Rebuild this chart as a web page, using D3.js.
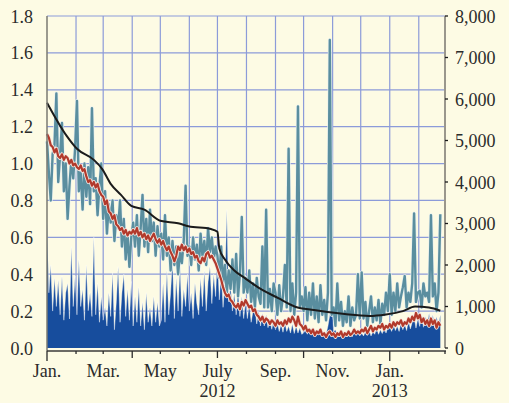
<!DOCTYPE html>
<html><head><meta charset="utf-8">
<script src="https://cdn.jsdelivr.net/npm/d3@7"></script>
<style>html,body{margin:0;padding:0;background:#fdfbe4;}svg{display:block;} text{font-family:"Liberation Serif","Times New Roman",Times,Tinos,"Nimbus Roman","Noto Serif","DejaVu Serif",serif;}</style>
</head><body>
<svg id="chart" width="509" height="403"></svg>
<script>
// ---------- DATA ----------
const seriesStart = [2012, 0, 1];   // first observation
const stepDays = 2;                  // spacing of observations

// spiky teal series (left axis)
const tealValues = [
 1.12,0.95,0.80,1.05,1.10,1.38,0.90,1.05,1.22,0.85,1.00,0.70,0.88,1.02,0.92,1.08,
 1.34,0.85,0.95,0.75,1.00,0.82,0.98,0.78,1.30,0.85,0.92,0.72,0.88,1.00,
 0.70,0.85,0.62,0.78,0.68,0.80,0.58,0.72,0.65,0.80,0.55,0.70,0.48,0.62,0.44,0.60,
 0.68,0.55,0.72,0.50,0.65,0.83,0.55,0.70,0.52,0.75,0.58,0.68,0.50,0.66,0.55,
 0.62,0.48,0.72,0.50,0.60,0.42,0.58,0.45,0.55,0.40,0.52,0.46,0.58,0.88,0.50,
 0.55,0.45,0.60,0.48,0.56,0.42,0.62,0.50,0.58,0.45,0.65,0.52,0.60,0.48,0.55,
 0.50,0.38,0.55,0.35,0.45,0.30,0.42,0.32,0.48,0.30,0.51,0.28,0.40,0.71,0.30,0.38,
 0.30,0.42,0.25,0.35,0.22,0.38,0.28,0.24,0.55,0.22,0.75,0.22,0.32,0.20,0.35,
 0.30,0.18,0.34,0.20,0.28,0.45,0.22,1.08,0.20,0.35,0.18,0.30,1.31,0.22,0.28,
 0.20,0.33,0.15,0.30,0.18,0.35,0.16,0.28,0.14,0.34,0.18,0.26,0.15,0.30,1.67,0.18,
 0.22,0.12,0.35,0.15,0.25,0.12,0.20,0.14,0.28,0.12,0.22,0.15,0.18,0.40,0.16,
 0.41,0.16,0.25,0.12,0.20,0.28,0.14,0.22,0.15,0.26,0.13,0.24,0.18,0.30,0.20,
 0.40,0.18,0.30,0.20,0.35,0.22,0.28,0.33,0.39,0.22,0.30,0.25,0.35,0.73,0.25,0.30,
 0.31,0.22,0.35,0.28,0.30,0.25,0.72,0.28,0.35,0.20,0.30,0.725
];

// red series (left axis)
const redValues = [
 1.16,1.14,1.10,1.09,1.06,1.08,1.04,1.03,1.05,1.02,1.04,1.03,1.00,1.02,0.99,1.00,
 0.98,0.97,0.99,0.96,0.97,0.93,0.90,0.91,0.88,0.90,0.87,0.89,0.85,0.83,
 0.82,0.78,0.80,0.74,0.73,0.70,0.72,0.67,0.66,0.64,0.65,0.62,0.64,0.61,0.63,0.62,
 0.64,0.62,0.65,0.61,0.63,0.60,0.62,0.59,0.61,0.58,0.60,0.62,0.59,0.57,0.59,
 0.56,0.58,0.55,0.53,0.55,0.52,0.50,0.47,0.50,0.55,0.53,0.56,0.53,0.55,0.52,
 0.54,0.51,0.52,0.49,0.50,0.47,0.46,0.49,0.47,0.51,0.52,0.49,0.50,0.48,0.46,
 0.43,0.40,0.37,0.33,0.30,0.28,0.29,0.26,0.25,0.23,0.22,0.24,0.21,0.25,0.23,0.26,
 0.24,0.22,0.23,0.20,0.21,0.18,0.17,0.15,0.17,0.14,0.16,0.15,0.13,0.15,0.14,
 0.12,0.15,0.13,0.14,0.12,0.15,0.13,0.16,0.14,0.17,0.15,0.12,0.17,0.13,0.12,
 0.10,0.12,0.09,0.10,0.08,0.10,0.07,0.09,0.08,0.10,0.07,0.08,0.06,0.08,0.09,0.07,
 0.08,0.06,0.08,0.07,0.09,0.06,0.08,0.07,0.09,0.07,0.08,0.10,0.08,0.09,0.08,
 0.10,0.09,0.11,0.08,0.10,0.12,0.09,0.11,0.10,0.12,0.11,0.13,0.10,0.12,0.11,
 0.13,0.11,0.14,0.12,0.14,0.13,0.15,0.12,0.14,0.13,0.16,0.14,0.17,0.15,0.19,0.16,
 0.18,0.14,0.16,0.13,0.15,0.12,0.16,0.13,0.15,0.11,0.14,0.12
];

// dark blue area (right axis)
const blueValues = [
 3020,1330,2000,890,1690,1000,1640,800,1730,670,1330,1560,700,2440,1000,1730,
 800,2130,1000,1420,670,2000,900,1330,760,2670,800,1560,620,1240,
 670,980,530,1330,760,1820,440,1110,1960,620,1330,1780,760,1420,670,1600,
 530,1240,620,1470,530,1110,440,1330,620,980,530,1240,620,1110,530,
 670,1560,620,1870,800,1330,2130,710,1690,890,2000,760,1420,1000,1780,
 890,1330,710,1560,1070,800,1690,1000,1870,890,1600,1960,1070,1780,1240,
 2220,1160,1870,980,1600,3330,1110,1510,890,1330,800,1420,760,1240,710,1110,
 710,1070,620,900,980,580,890,530,840,530,800,490,710,450,670,
 440,620,400,580,380,620,400,530,360,580,350,530,360,490,330,
 360,440,330,490,330,440,300,400,330,440,300,400,330,530,800,1330,
 400,440,300,400,290,360,270,400,290,360,270,440,300,400,290,
 360,290,400,300,440,290,400,330,490,330,440,350,490,360,500,
 530,400,580,420,530,400,620,440,580,420,670,460,620,760,480,710,
 520,800,500,760,540,840,520,800,480,760,540,800
];

// smooth black line (left axis): day offsets from series start, values
const blackDays   = [0,21,32,50,59,68,79,90,104,121,140,151,175,182,184,190,200,211,225,247,265,285,318,344,362,380,393,408,420];
const blackValues = [1.33,1.15,1.08,1.02,0.97,0.89,0.83,0.77,0.75,0.69,0.676,0.66,0.645,0.63,0.54,0.48,0.42,0.38,0.33,0.27,0.224,0.206,0.184,0.174,0.182,0.200,0.225,0.22,0.202];

const leftTicks  = [0,0.2,0.4,0.6,0.8,1.0,1.2,1.4,1.6,1.8];
const rightTicks = [0,1000,2000,3000,4000,5000,6000,7000,8000];
const monthLabels = [
 {m:[2012,0],  label:"Jan."}, {m:[2012,2], label:"Mar."}, {m:[2012,4], label:"May"},
 {m:[2012,6],  label:"July"}, {m:[2012,8], label:"Sep."}, {m:[2012,10], label:"Nov."},
 {m:[2013,0],  label:"Jan."}
];
const yearLabels = [{m:[2012,6], label:"2012"}, {m:[2013,0], label:"2013"}];

// ---------- CHART ----------
const svg = d3.select("#chart");
const W = 509, H = 403;
const L = 47, R = 445, T = 16, B = 348;
svg.append("rect").attr("width", W).attr("height", H).attr("fill", "#fdfbe4");

const x = d3.scaleTime().domain([new Date(2012,0,1), new Date(2013,2,1)]).range([L, R]);
const yL = d3.scaleLinear().domain([0, 1.8]).range([B, T]);
const yR = d3.scaleLinear().domain([0, 8000]).range([B, T]);

const start = new Date(...seriesStart);
const dateAt = i => d3.timeDay.offset(start, i * stepDays);
const teal = tealValues.map((v,i) => ({d: dateAt(i), v}));
const red  = redValues.map((v,i) => ({d: dateAt(i), v}));
const blue = blueValues.map((v,i) => ({d: dateAt(i), v}));
const black = blackDays.map((dd,i) => ({d: d3.timeDay.offset(start, dd), v: blackValues[i]}));

const gridColor = "#8c9bd9";
const months = d3.timeMonth.range(new Date(2012,0,1), new Date(2013,2,2));

// gridlines
const grid = svg.append("g");
grid.selectAll("line.h").data(leftTicks.slice(1)).join("line")
  .attr("x1", L).attr("x2", R).attr("y1", d => yL(d)).attr("y2", d => yL(d))
  .attr("stroke", gridColor).attr("stroke-width", 1.2);
grid.selectAll("line.v").data(months.slice(1, -1)).join("line")
  .attr("x1", d => x(d)).attr("x2", d => x(d)).attr("y1", T).attr("y2", B)
  .attr("stroke", gridColor).attr("stroke-width", 1.2);

// blue area
const area = d3.area().x(d => x(d.d)).y0(yR(0)).y1(d => yR(d.v));
svg.append("path").datum(blue).attr("d", area).attr("fill", "#174d9d");
svg.append("path").datum(blue).attr("d", d3.line().x(d => x(d.d)).y(d => yR(d.v)))
  .attr("fill", "none").attr("stroke", "#ffffff").attr("stroke-opacity", 0.4).attr("stroke-width", 1);

// teal line with halo
const lineL = d3.line().x(d => x(d.d)).y(d => yL(d.v));
svg.append("path").datum(teal).attr("d", lineL).attr("fill", "none")
  .attr("stroke", "#e8f0ee").attr("stroke-width", 3.8).attr("stroke-linejoin", "round");
svg.append("path").datum(teal).attr("d", lineL).attr("fill", "none")
  .attr("stroke", "#5a8e9f").attr("stroke-width", 2.4).attr("stroke-linejoin", "round");

// red line with halo
svg.append("path").datum(red).attr("d", lineL).attr("fill", "none")
  .attr("stroke", "#f4e7e0").attr("stroke-width", 3.8).attr("stroke-linejoin", "round");
svg.append("path").datum(red).attr("d", lineL).attr("fill", "none")
  .attr("stroke", "#b23a2c").attr("stroke-width", 2.2).attr("stroke-linejoin", "round");

// black line
svg.append("path").datum(black).attr("d", d3.line().x(d => x(d.d)).y(d => yL(d.v)).curve(d3.curveMonotoneX))
  .attr("fill", "none").attr("stroke", "#1b1b1b").attr("stroke-width", 2);

// axes lines
svg.append("line").attr("x1", L).attr("x2", L).attr("y1", T).attr("y2", B + 3)
  .attr("stroke", "#7a7a72").attr("stroke-width", 1.5);
svg.append("line").attr("x1", R).attr("x2", R).attr("y1", T).attr("y2", B)
  .attr("stroke", "#9a978c").attr("stroke-width", 2);
svg.append("line").attr("x1", L).attr("x2", R + 1).attr("y1", B + 3).attr("y2", B + 3)
  .attr("stroke", "#3a3a3a").attr("stroke-width", 1.3);

// x ticks
svg.selectAll("line.xt").data(months).join("line")
  .attr("x1", d => x(d)).attr("x2", d => x(d)).attr("y1", B + 3)
  .attr("y2", d => B + 3 + (d.getMonth() === 0 ? 10 : (d.getMonth() % 3 === 0 ? 7 : 3)))
  .attr("stroke", "#2a2a2a").attr("stroke-width", 1.3);

// right ticks
svg.selectAll("line.rt").data(rightTicks).join("line")
  .attr("x1", R).attr("x2", R + 3).attr("y1", d => yR(d)).attr("y2", d => yR(d))
  .attr("stroke", "#1a1a1a").attr("stroke-width", 1.3);

const txtColor = "#2b2b2b";
function styleText(s) {
  return s.attr("font-size", 18).attr("fill", txtColor);
}
styleText(svg.selectAll("text.yl").data(leftTicks).join("text")
  .attr("x", 33).attr("y", d => yL(d) + 6.5).attr("text-anchor", "end")
  .text(d => d3.format(".1f")(d)));
styleText(svg.selectAll("text.yr").data(rightTicks).join("text")
  .attr("x", 455).attr("y", d => yR(d) + 6.5).attr("text-anchor", "start")
  .text(d => d3.format(",")(d)));
styleText(svg.selectAll("text.xl").data(monthLabels).join("text")
  .attr("x", d => x(new Date(d.m[0], d.m[1], 1))).attr("y", 377)
  .attr("text-anchor", "middle")
  .text(d => d.label));
styleText(svg.selectAll("text.yrl").data(yearLabels).join("text")
  .attr("x", d => x(new Date(d.m[0], d.m[1], 1))).attr("y", 397)
  .attr("text-anchor", "middle")
  .text(d => d.label));
</script>
</body></html>
